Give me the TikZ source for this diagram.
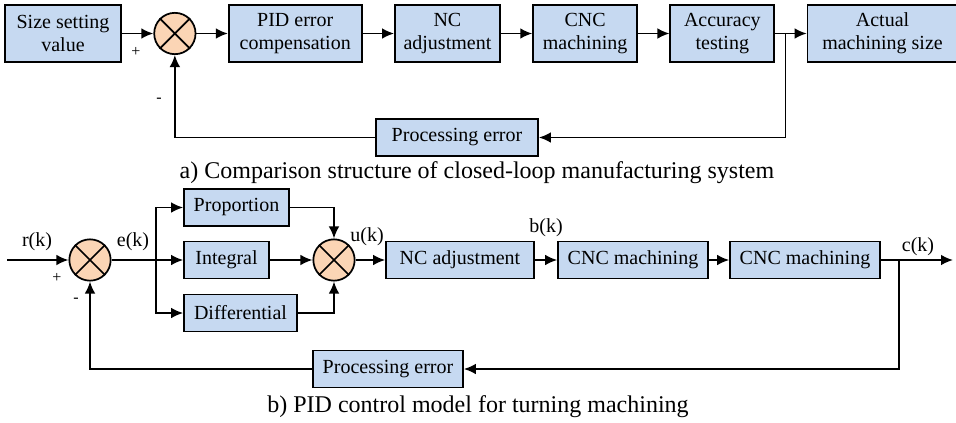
\documentclass[tikz,border=0pt]{standalone}
\usepackage{fontspec}
\setmainfont{Liberation Serif}
\usetikzlibrary{arrows.meta,calc,positioning}
\definecolor{blkblue}{RGB}{198,217,241}
\definecolor{sumpeach}{RGB}{251,213,181}

\begin{document}
\begin{tikzpicture}[
  x=0.75pt, y=-0.75pt,
  font=\fontsize{15}{17.5}\selectfont,
  blk/.style={draw=black, line width=1.3pt, fill=blkblue, align=center, inner sep=1pt, minimum height=27.75pt},
  tallblk/.style={blk, minimum height=42.75pt},
  sumc/.style={circle, draw=black, line width=1.3pt, fill=sumpeach, minimum size=31pt, inner sep=0pt},
  arrow/.style={-{Latex[length=9pt,width=8pt]}, line width=1.3pt},
  wire/.style={line width=1.3pt},
  sig/.style={inner sep=0pt},
  sgn/.style={inner sep=0pt, font=\fontsize{12}{13}\selectfont},
  captxt/.style={inner sep=0pt, font=\fontsize{18}{20}\selectfont}
]
  \useasboundingbox (0,0) rectangle (956,422);

  % --- a) closed-loop manufacturing system ---
  \node[tallblk, minimum width=87pt] (set) at (63,33.5) {Size setting\\value};
  \node[sumc, right=23.6pt of set] (s1) {};
  \node[tallblk, minimum width=99.75pt, right=23.6pt of s1] (pid) {PID error\\compensation};
  \node[tallblk, minimum width=78.75pt, right=23.6pt of pid] (nc1) {NC\\adjustment};
  \node[tallblk, minimum width=78pt, right=23.6pt of nc1] (cnc0) {CNC\\machining};
  \node[tallblk, minimum width=78pt, right=23.6pt of cnc0] (acc) {Accuracy\\testing};
  \node[tallblk, minimum width=112.5pt, right=23.6pt of acc] (act) {Actual\\machining size};
  \node[blk, minimum width=121.5pt] (perr1) at (457,137.5) {Processing error};
  \coordinate (br1) at ($(acc.east)!0.33!(act.west)$);

  \draw[arrow] (set) -- (s1); \draw[arrow] (s1) -- (pid); \draw[arrow] (pid) -- (nc1);
  \draw[arrow] (nc1) -- (cnc0); \draw[arrow] (cnc0) -- (acc); \draw[arrow] (acc) -- (act);
  \draw[arrow] (br1) |- (perr1);
  \draw[arrow] (perr1) -| (s1);

  \node[sgn] at (136,52) {+};
  \node[sgn] at (159,100) {-};
  \node[captxt] (capa) at (477,173) {a) Comparison structure of closed-loop manufacturing system};

  % --- b) PID control model ---
  \coordinate (rin) at (7,260);
  \node[sumc] (s2) at (90,260) {};
  \coordinate (br2) at (156,260);
  \node[blk, minimum width=78.75pt] (prop) at (236.5,207.5) {Proportion};
  \node[blk, minimum width=63.75pt] (integ) at (226.5,260) {Integral};
  \node[blk, minimum width=84.75pt] (diff) at (240.5,313) {Differential};
  \node[sumc] (s3) at (334,260) {};
  \node[blk, minimum width=111pt] (nc2) at (460,260) {NC adjustment};
  \node[blk, minimum width=112.5pt] (cnc1) at (633,260) {CNC machining};
  \node[blk, minimum width=112.5pt] (cnc2) at (805,260) {CNC machining};
  \coordinate (br3) at (899,260);
  \coordinate (cout) at (953,260);
  \node[blk, minimum width=112.5pt] (perr2) at (388,369) {Processing error};

  \draw[arrow] (rin) -- (s2);
  \draw[wire] (s2) -- (br2);
  \draw[arrow] (br2) |- (prop);
  \draw[arrow] (br2) -- (integ);
  \draw[arrow] (br2) |- (diff);
  \draw[arrow] (prop) -| (s3);
  \draw[arrow] (integ) -- (s3);
  \draw[arrow] (diff) -| (s3);
  \draw[arrow] (s3) -- (nc2); \draw[arrow] (nc2) -- (cnc1); \draw[arrow] (cnc1) -- (cnc2);
  \draw[arrow] (cnc2) -- (cout);
  \draw[arrow] (br3) |- (perr2);
  \draw[arrow] (perr2) -| (s2);

  % summing junction crosses
  \foreach \s in {s1,s2,s3}
    \draw[wire] (\s.45) -- (\s.225) (\s.135) -- (\s.315);

  \node[sig] at (37,242) {r(k)};
  \node[sig] at (133,242) {e(k)};
  \node[sig] at (367,237) {u(k)};
  \node[sig] at (546,228) {b(k)};
  \node[sig] at (918,247) {c(k)};
  \node[sgn] at (57,278) {+};
  \node[sgn] at (76,300) {-};
  \node[captxt] (capb) at (478,407) {b) PID control model for turning machining};
\end{tikzpicture}
\end{document}
